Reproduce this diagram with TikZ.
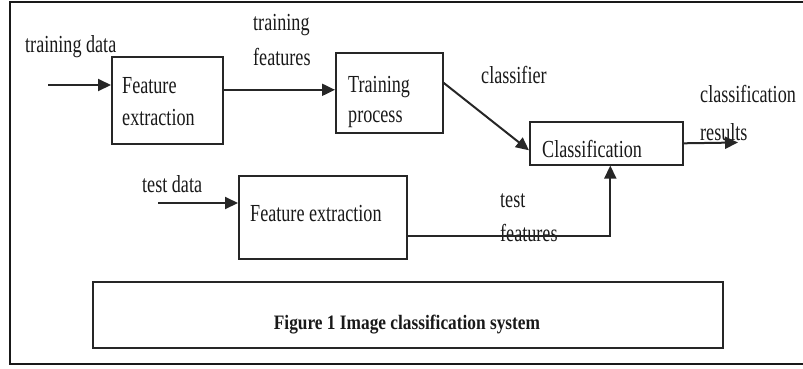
\documentclass[tikz,border=0pt]{standalone}
\usepackage{fontspec}
\setmainfont{Liberation Serif}[FakeStretch=0.74]
\newfontfamily\capfont{Liberation Serif}[FakeStretch=0.845]
\usetikzlibrary{arrows.meta}
\begin{document}
\begin{tikzpicture}[x=1pt,y=-1pt,
  bx/.style={draw=black!85,line width=1.6pt,inner sep=0pt,anchor=north west},
  lbl/.style={font=\fontsize{24.5}{28}\selectfont,inner sep=0pt,anchor=base west,text=black!90},
  arr/.style={draw=black!85,line width=2pt,-{Triangle[length=13pt,width=12pt]}},
  frame/.style={draw=black!90,line width=2.2pt}
]
\useasboundingbox (0,0) rectangle (803,368);
\draw[frame] (803,2) -- (10,2) -- (10,364) -- (803,364);

% boxes
\node[bx,minimum width=111,minimum height=87] (fe1) at (111,56) {};
\node[bx,minimum width=107,minimum height=80] (tp) at (335,52) {};
\node[bx,minimum width=153,minimum height=43] (cl) at (529,121) {};
\node[bx,minimum width=168,minimum height=83] (fe2) at (238,175) {};
\node[bx,minimum width=630,minimum height=66] (cap) at (92,281) {};

% box texts
\node[lbl] (fe1a) at (122,93) {Feature};
\node[lbl] (fe1b) at (122,125) {extraction};
\node[lbl] (tpa) at (348,92) {Training};
\node[lbl] (tpb) at (348,122) {process};
\node[lbl] (cla) at (542,157) {Classification};
\node[lbl] (fe2a) at (250,221) {Feature extraction};
\node[font=\capfont\bfseries\fontsize{20.5}{24}\selectfont,inner sep=0pt,anchor=base,text=black!90] (capt) at (407,329) {Figure 1 Image classification system};

% labels
\node[lbl] (td) at (25,52) {training data};
\node[lbl] (tf1) at (253,30) {training};
\node[lbl] (tf2) at (253,65) {features};
\node[lbl] (cf) at (481,83) {classifier};
\node[lbl] (cr1) at (700,102) {classification};
\node[lbl] (cr2) at (700,140) {results};
\node[lbl] (tsd) at (142,192) {test data};
\node[lbl] (tsf1) at (500,207) {test};
\node[lbl] (tsf2) at (500,241) {features};

% free ends
\coordinate (in1) at (48,85);
\coordinate (in2) at (158,203);
\coordinate (out) at (738,142.5);

% connectors
\draw[arr] (in1) -- (in1 -| fe1.west);
\draw[arr] ([yshift=10.5pt]fe1.east) -- ([yshift=3pt]tp.west);
\draw[arr] ([yshift=10pt]tp.east) -- ([yshift=-7pt]cl.west);
\draw[arr] (cl.east) -- (out);
\draw[arr] ([yshift=-18.5pt]fe2.east) -| ([xshift=4pt]cl.south);
\draw[arr] (in2) -- (in2 -| fe2.west);
\end{tikzpicture}
\end{document}
